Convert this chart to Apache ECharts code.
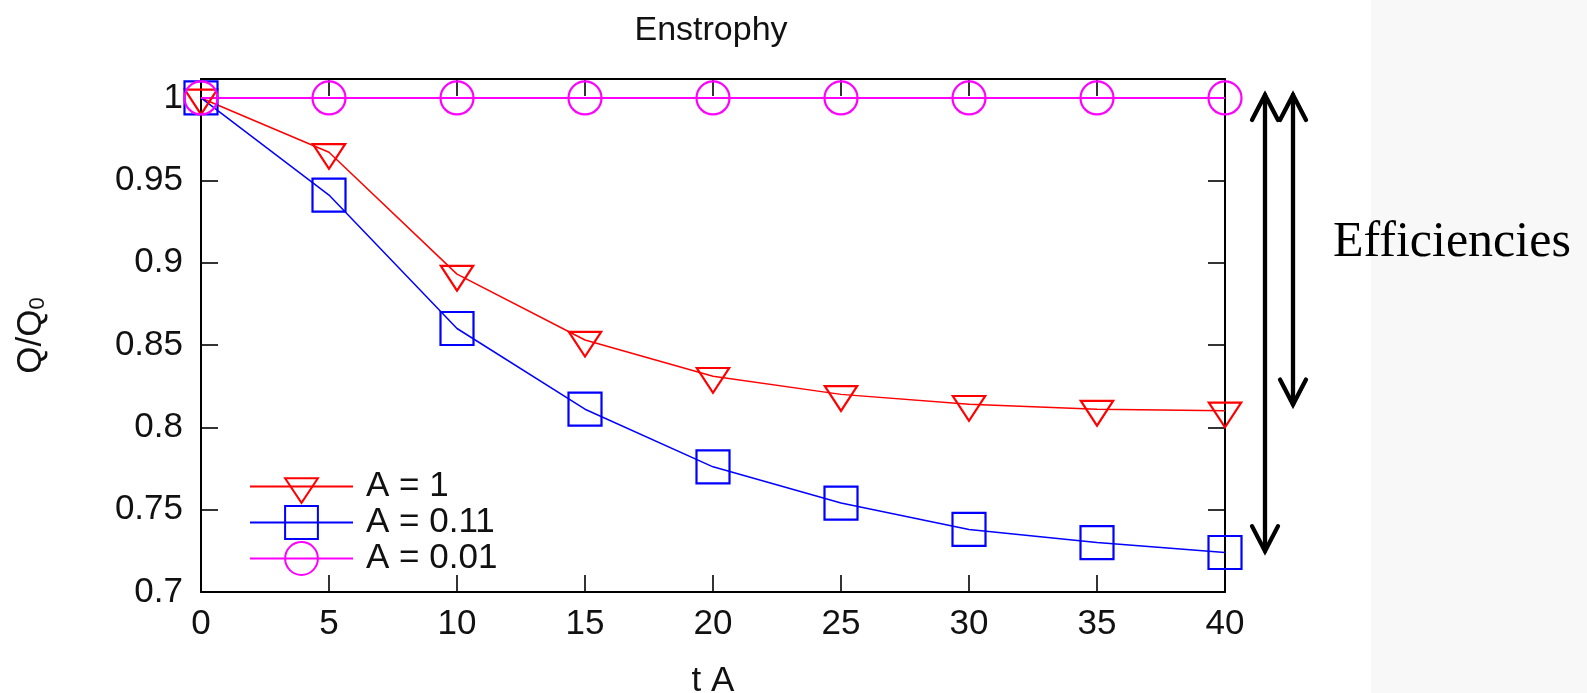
<!DOCTYPE html>
<html>
<head>
<meta charset="utf-8">
<script src="https://cdn.jsdelivr.net/npm/echarts@6/dist/echarts.min.js"></script>
<style>
  html, body { margin: 0; padding: 0; background: #ffffff; }
  #chart { width: 1587px; height: 693px; }
</style>
</head>
<body>
<div id="chart"></div>
<script>
// Time axis (t A) and normalised enstrophy Q/Q0 for three forcing amplitudes
const tValues = [0, 5, 10, 15, 20, 25, 30, 35, 40];
const seriesNames = ['A = 1', 'A = 0.11', 'A = 0.01'];
const enstrophyA1 = [1.0, 0.967, 0.893, 0.853, 0.831, 0.820, 0.814, 0.811, 0.810];
const enstrophyA011 = [1.0, 0.941, 0.860, 0.811, 0.776, 0.754, 0.738, 0.730, 0.724];
const enstrophyA001 = [1.0, 1.0, 1.0, 1.0, 1.0, 1.0, 1.0, 1.0, 1.0];
const titleText = 'Enstrophy';
const xAxisName = 't A';
const annotationText = 'Efficiencies';

const FONT = '"Liberation Sans", Arial, Helvetica, sans-serif';
const pairs = (ys) => tValues.map((t, i) => [t, ys[i]]);
// Downward triangle whose centroid sits at the centre of its (square) box
const triangleDown = 'path://M0 0M34 34.67M0 8.67L34 8.67L17 34.67Z';

const chart = echarts.init(document.getElementById('chart'), null, { renderer: 'canvas' });

const frameAxis = {
  axisLine: { show: true, onZero: false, lineStyle: { color: '#000', width: 2 } },
  axisTick: { show: true, inside: true, length: 17, lineStyle: { color: '#000', width: 1.6 } },
  splitLine: { show: false }
};

function lineSeries(name, data, color, symbol, lineWidth) {
  return {
    name: name,
    type: 'line',
    data: pairs(data),
    xAxisIndex: 0,
    yAxisIndex: 0,
    clip: false,
    symbol: symbol,
    symbolSize: 33,
    symbolKeepAspect: true,
    showAllSymbol: true,
    lineStyle: { color: color, width: lineWidth },
    itemStyle: { color: 'rgba(0,0,0,0)', borderColor: color, borderWidth: 2.2 },
    emphasis: { disabled: true }
  };
}

chart.setOption({
  animation: false,
  title: {
    text: titleText,
    left: 706, top: 9,
    textAlign: 'center',
    textStyle: { fontFamily: FONT, fontSize: 34, fontWeight: 'normal', color: '#111' }
  },
  grid: { left: 201, right: 362, top: 79, bottom: 101, containLabel: false, outerBoundsMode: 'none' },
  legend: {
    orient: 'vertical',
    left: 244, top: 464,
    itemWidth: 103, itemHeight: 41, itemGap: 1,
    selectedMode: false,
    data: seriesNames,
    textStyle: { fontFamily: FONT, fontSize: 35, color: '#111', padding: [0, 0, 0, 8] }
  },
  xAxis: [
    Object.assign({
      type: 'value', position: 'bottom', min: 0, max: 40, interval: 5,
      name: xAxisName, nameLocation: 'middle', nameGap: 72,
      nameTextStyle: { fontFamily: FONT, fontSize: 35, color: '#111' },
      axisLabel: { fontFamily: FONT, fontSize: 35, color: '#111', margin: 15 }
    }, frameAxis),
    Object.assign({
      type: 'value', position: 'top', min: 0, max: 40, interval: 5,
      axisLabel: { show: false }
    }, frameAxis)
  ],
  yAxis: [
    Object.assign({
      type: 'value', position: 'left', min: 0.7, max: 1.0115, interval: 0.05,
      name: 'Q/Q{s|0}', nameLocation: 'middle', nameGap: 152, nameRotate: 90,
      nameTextStyle: {
        fontFamily: FONT, fontSize: 35, color: '#111',
        rich: { s: { fontFamily: FONT, fontSize: 22, color: '#111', lineHeight: 22, padding: [20, 0, 0, 0], verticalAlign: 'bottom' } }
      },
      axisLabel: { fontFamily: FONT, fontSize: 35, color: '#111', margin: 18, showMaxLabel: false }
    }, frameAxis),
    Object.assign({
      type: 'value', position: 'right', min: 0.7, max: 1.0115, interval: 0.05,
      axisLabel: { show: false }
    }, frameAxis)
  ],
  series: [
    lineSeries(seriesNames[0], enstrophyA1, '#ff0000', triangleDown, 1.5),
    lineSeries(seriesNames[1], enstrophyA011, '#0000ff', 'rect', 1.5),
    lineSeries(seriesNames[2], enstrophyA001, '#ff00ff', 'circle', 2)
  ]
});

// Double-headed arrows beside the frame, spanning from the initial value
// down to the final value of each decaying curve.
const lastIdx = tValues.length - 1;
const px = (x, y) => chart.convertToPixel({ xAxisIndex: 0, yAxisIndex: 0 }, [x, y]);
const frameRight = px(tValues[lastIdx], 1)[0];

function doubleArrow(xPix, yTopVal, yBotVal) {
  const top = px(0, yTopVal)[1] - 3;
  const bot = px(0, yBotVal)[1] - 3;
  const hw = 13, hl = 25;
  const style = { stroke: '#000', lineWidth: 4.3, lineCap: 'round', lineJoin: 'miter', fill: null };
  return {
    type: 'group',
    children: [
      { type: 'polyline', shape: { points: [[xPix, top], [xPix, bot]] }, style: style },
      { type: 'polyline', shape: { points: [[xPix - hw, top + hl], [xPix, top], [xPix + hw, top + hl]] }, style: style },
      { type: 'polyline', shape: { points: [[xPix - hw, bot - hl], [xPix, bot], [xPix + hw, bot - hl]] }, style: style }
    ]
  };
}

chart.setOption({
  graphic: [
    {
      type: 'rect', z: -10, silent: true,
      shape: { x: 1371, y: 0, width: 1587 - 1371, height: 693 },
      style: { fill: '#f8f8f8' }
    },
    doubleArrow(frameRight + 40, enstrophyA001[0], enstrophyA011[lastIdx] - 0.001),
    doubleArrow(frameRight + 68, enstrophyA001[0], enstrophyA1[lastIdx] + 0.002),
    {
      type: 'text', silent: true,
      style: {
        x: 1333, y: 243, text: annotationText,
        font: '50px "Liberation Serif", "Times New Roman", serif',
        fill: '#000', align: 'left', verticalAlign: 'middle'
      }
    }
  ]
});
</script>
</body>
</html>
